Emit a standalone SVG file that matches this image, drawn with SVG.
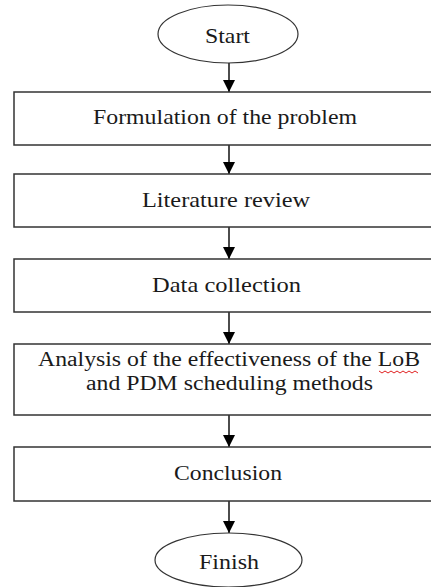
<svg xmlns="http://www.w3.org/2000/svg" width="431" height="587" viewBox="0 0 431 587">
<style>
.box{fill:#fff;stroke:#333;stroke-width:1.5}
.ell{fill:#fff;stroke:#333;stroke-width:1.2}
.t{font-family:"Liberation Serif","Times New Roman",serif;font-size:22px;fill:#1a1a1a;text-anchor:middle}
.t2{font-size:20px}
.c{stroke:#000;stroke-width:1.4;fill:none}
</style>
<defs>
<marker id="ah" markerUnits="userSpaceOnUse" markerWidth="12" markerHeight="12" refX="12" refY="6" orient="auto">
<path d="M0,0 L12,6 L0,12 z" fill="#000"/>
</marker>
</defs>
<rect width="431" height="587" fill="#fff"/>
<g id="connectors">
<line class="c" x1="229" y1="63" x2="229" y2="92" marker-end="url(#ah)"/>
<line class="c" x1="229" y1="145" x2="229" y2="174" marker-end="url(#ah)"/>
<line class="c" x1="229" y1="227" x2="229" y2="259" marker-end="url(#ah)"/>
<line class="c" x1="229" y1="312" x2="229" y2="344" marker-end="url(#ah)"/>
<line class="c" x1="229" y1="415" x2="229" y2="447" marker-end="url(#ah)"/>
<line class="c" x1="229" y1="501" x2="229" y2="533" marker-end="url(#ah)"/>
</g>
<g id="start">
<ellipse class="ell" cx="228" cy="34" rx="70" ry="29"/>
<text class="t" x="227.5" y="43" textLength="45" lengthAdjust="spacingAndGlyphs">Start</text>
</g>
<g id="formulation">
<rect class="box" x="14" y="92" width="430" height="53"/>
<text class="t" x="225" y="124" textLength="264" lengthAdjust="spacingAndGlyphs">Formulation of the problem</text>
</g>
<g id="literature">
<rect class="box" x="14" y="174" width="430" height="53"/>
<text class="t" x="226" y="207" textLength="168" lengthAdjust="spacingAndGlyphs">Literature review</text>
</g>
<g id="data">
<rect class="box" x="14" y="259" width="430" height="53"/>
<text class="t" x="226.5" y="292" textLength="149" lengthAdjust="spacingAndGlyphs">Data collection</text>
</g>
<g id="analysis">
<rect class="box" x="14" y="344" width="430" height="71"/>
<text class="t t2" x="229" y="366" textLength="382" lengthAdjust="spacingAndGlyphs">Analysis of the effectiveness of the LoB</text>
<text class="t t2" x="229.5" y="390" textLength="287" lengthAdjust="spacingAndGlyphs">and PDM scheduling methods</text>
<path d="M379,371 l3,2 l3,-2 l3,2 l3,-2 l3,2 l3,-2 l3,2 l3,-2 l3,2 l3,-2 l3,2 l3,-2 l3,2" fill="none" stroke="#e02020" stroke-width="1"/>
</g>
<g id="conclusion">
<rect class="box" x="14" y="447" width="430" height="54"/>
<text class="t" x="228" y="480" textLength="108" lengthAdjust="spacingAndGlyphs">Conclusion</text>
</g>
<g id="finish">
<ellipse class="ell" cx="228.5" cy="560" rx="73.5" ry="27"/>
<text class="t" x="229" y="569" textLength="60" lengthAdjust="spacingAndGlyphs">Finish</text>
</g>
</svg>
